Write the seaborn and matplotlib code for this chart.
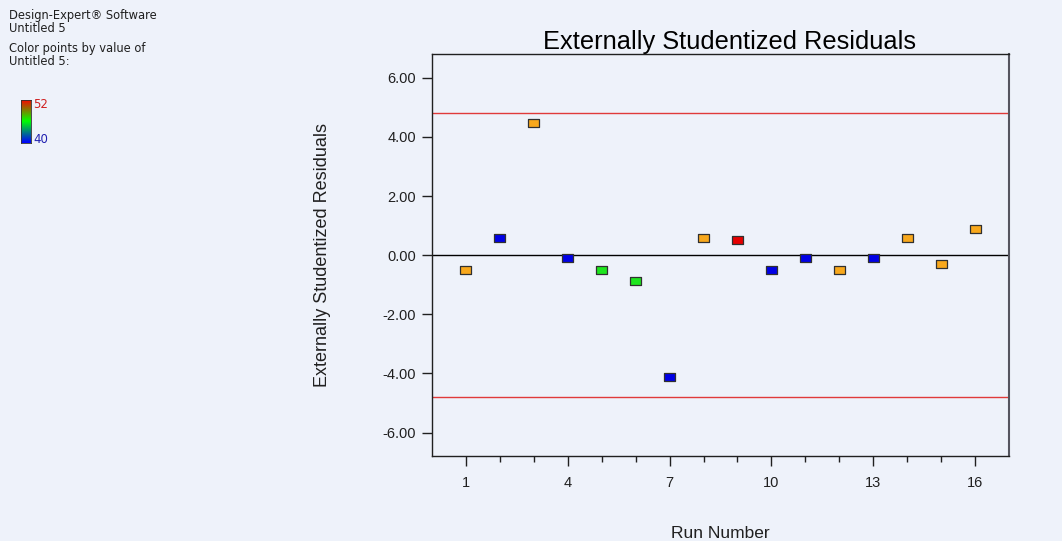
import numpy as np
import pandas as pd
import seaborn as sns
import matplotlib.pyplot as plt
from matplotlib.path import Path
from matplotlib.colors import LinearSegmentedColormap

# values
run_number = list(range(1, 17))
residuals = [-0.51, 0.57, 4.46, -0.10, -0.51, -0.88, -4.12, 0.57,
             0.51, -0.51, -0.10, -0.51, -0.10, 0.57, -0.30, 0.88]
response = [49, 40, 49, 40, 45, 45, 40, 49, 52, 40, 40, 49, 40, 49, 49, 49]
limit = 4.80
y_ticks = [-6, -4, -2, 0, 2, 4, 6]
x_major = [1, 4, 7, 10, 13, 16]

point_colors = {40: "#0000E6", 45: "#1EE61E", 49: "#F8A81C", 52: "#E60000"}
bg = "#EEF2FA"

sns.set_style("white")
plt.rcParams['font.family'] = ['Liberation Sans', 'DejaVu Sans']

df = pd.DataFrame({"run": run_number, "resid": residuals, "value": response})

fig = plt.figure(figsize=(10.62, 5.41), dpi=100, facecolor=bg)
ax = fig.add_axes([0.4068, 0.1571, 0.5433, 0.7425])
ax.set_facecolor(bg)

ax.axhline(0, color="black", lw=1, zorder=1)
ax.axhline(limit, color="#E03A3A", lw=1, zorder=1)
ax.axhline(-limit, color="#E03A3A", lw=1, zorder=1)

# wide rectangle marker like Design-Expert
rect = Path([(-1, -0.72), (1, -0.72), (1, 0.72), (-1, 0.72), (-1, -0.72)],
            [Path.MOVETO, Path.LINETO, Path.LINETO, Path.LINETO, Path.CLOSEPOLY])
sns.scatterplot(data=df, x="run", y="resid", hue="value", palette=point_colors,
                marker=rect, s=62, edgecolor="#303030", linewidth=0.9,
                legend=False, ax=ax, zorder=3)

ax.set_xlim(0, 17)
ax.set_ylim(-6.79, 6.79)
ax.set_yticks(y_ticks)
ax.set_yticklabels([f"{v:.2f}" for v in y_ticks])
ax.set_xticks(x_major)
ax.set_xticks(run_number, minor=True)
ax.tick_params(axis="y", left=True, length=7.5, width=1, color="#202020", pad=4,
               labelsize=10.5, labelcolor="#202020")
ax.tick_params(axis="x", which="major", bottom=True, length=7.5, width=1,
               color="#202020", pad=7, labelsize=10.5, labelcolor="#202020")
ax.tick_params(axis="x", which="minor", bottom=True, length=4.5, width=1, color="#202020")
for side in ["left", "bottom", "top"]:
    ax.spines[side].set_color("#202020")
    ax.spines[side].set_linewidth(1)
ax.spines["right"].set_color("#55555F")
ax.spines["right"].set_linewidth(1.5)

ax.set_title("Externally Studentized Residuals", fontsize=18.3, pad=4, color="black",
             x=0.515)
ax.set_xlabel("Run Number", fontsize=12.5, color="#202020", labelpad=26)
ax.set_ylabel("Externally Studentized Residuals", fontsize=13, color="#202020", labelpad=37)

# legend text at top left
fig.text(0.0085, 0.983, "Design-Expert® Software\nUntitled 5", fontsize=8.3,
         family="DejaVu Sans", va="top", ha="left", linespacing=1.0, color="#202020")
fig.text(0.0085, 0.922, "Color points by value of\nUntitled 5:", fontsize=8.3,
         family="DejaVu Sans", va="top", ha="left", linespacing=1.0, color="#202020")

cmap = LinearSegmentedColormap.from_list("de", ["#0000FF", "#00FF00", "#FF0000"])
cax = fig.add_axes([0.0198, 0.7357, 0.0094, 0.0795])
cax.imshow(np.linspace(1, 0, 100).reshape(-1, 1), aspect="auto", cmap=cmap)
cax.set_xticks([])
cax.set_yticks([])
for sp in cax.spines.values():
    sp.set_color("#303030")
    sp.set_linewidth(0.6)
fig.text(0.031, 0.806, str(max(response)), color="#D02020", fontsize=8.5,
         family="DejaVu Sans", va="center")
fig.text(0.031, 0.742, str(min(response)), color="#2020B0", fontsize=8.5,
         family="DejaVu Sans", va="center")

fig.savefig("out.png", dpi=100, facecolor=bg)
